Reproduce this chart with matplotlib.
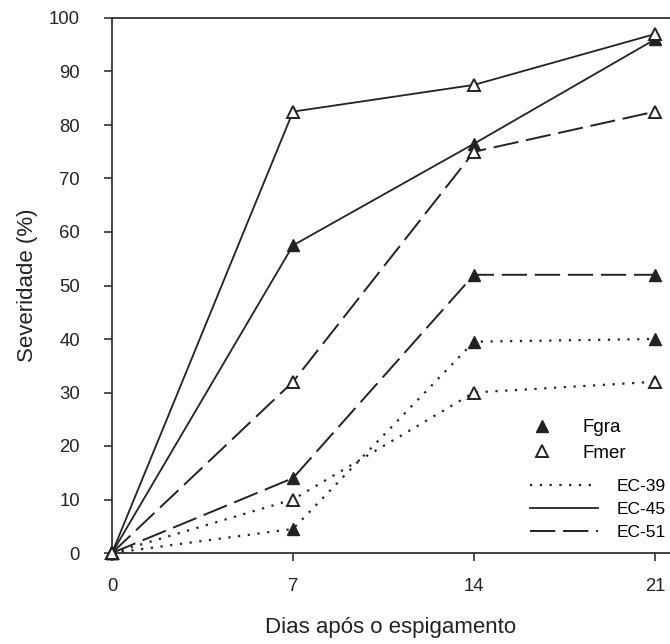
import matplotlib
matplotlib.use("Agg")
import matplotlib.pyplot as plt
from matplotlib.lines import Line2D

plt.rcParams['font.family'] = ['Liberation Sans', 'DejaVu Sans']

days = [0, 7, 14, 21]
stages = ["EC-39", "EC-45", "EC-51"]
fgra = {
    "EC-39": [0, 4.5, 39.5, 40],
    "EC-45": [0, 57.5, 76.5, 96],
    "EC-51": [0, 14, 52, 52],
}
fmer = {
    "EC-39": [0, 10, 30, 32],
    "EC-45": [0, 82.5, 87.5, 97],
    "EC-51": [0, 32, 75, 82.5],
}
yticks = list(range(0, 101, 10))

styles = {
    "EC-39": (0, (1, 3.4)),
    "EC-45": "-",
    "EC-51": (0, (13, 4)),
}
widths = {"EC-39": 1.6, "EC-45": 1.3, "EC-51": 1.4}
col = "#222222"

W, H = 670, 644
fig = plt.figure(figsize=(W/100, H/100), dpi=100)
ax = fig.add_axes([112/W, 1 - 553/H, 1 - 112/W, (553 - 18)/H])

for st in stages:
    ax.plot(days, fgra[st], linestyle=styles[st], color=col, lw=widths[st],
            marker="^", markersize=9, markerfacecolor=col, markeredgecolor=col,
            clip_on=False, zorder=3)
    ax.plot(days, fmer[st], linestyle=styles[st], color=col, lw=widths[st],
            marker="^", markersize=9, markerfacecolor="white", markeredgecolor=col,
            markeredgewidth=1.4, clip_on=False, zorder=4)

ax.set_xlim(0, 21.58)
ax.set_ylim(0, 100)
ax.set_xticks(days)
ax.set_yticks(yticks)
ax.spines['right'].set_visible(False)
for s in ['left', 'bottom', 'top']:
    ax.spines[s].set_color("#333333")
    ax.spines[s].set_linewidth(1.3)
ax.tick_params(direction='out', length=6, width=1.2, colors="#333333",
               labelsize=13.3, labelcolor="#222222")
ax.tick_params(axis='x', pad=12)
ax.tick_params(axis='y', pad=17)
ax.set_xlabel("Dias após o espigamento", fontsize=16, labelpad=16, color="#222222")
ax.set_ylabel("Severidade (%)", fontsize=16, labelpad=8, color="#222222")

h1 = [Line2D([], [], linestyle="none", marker="^", markersize=9,
             markerfacecolor=col, markeredgecolor=col),
      Line2D([], [], linestyle="none", marker="^", markersize=8,
             markerfacecolor="white", markeredgecolor=col, markeredgewidth=1.4)]
leg1 = ax.legend(h1, ["Fgra", "Fmer"], loc="upper left",
                 bbox_to_anchor=(528/W, 1 - 419/H), bbox_transform=fig.transFigure,
                 borderpad=0, borderaxespad=0, frameon=False, fontsize=13.5,
                 handlelength=1.5, handletextpad=1.39, labelspacing=0.45)
ax.add_artist(leg1)
h2 = [Line2D([], [], linestyle=styles[s], color=col, lw=widths[s]) for s in stages]
ax.legend(h2, stages, loc="upper left",
          bbox_to_anchor=(530/W, 1 - 479/H), bbox_transform=fig.transFigure,
          borderpad=0, borderaxespad=0, frameon=False, fontsize=12.5,
          handlelength=3.9, handletextpad=1.09, labelspacing=0.45)

fig.savefig("out.png", dpi=100)
